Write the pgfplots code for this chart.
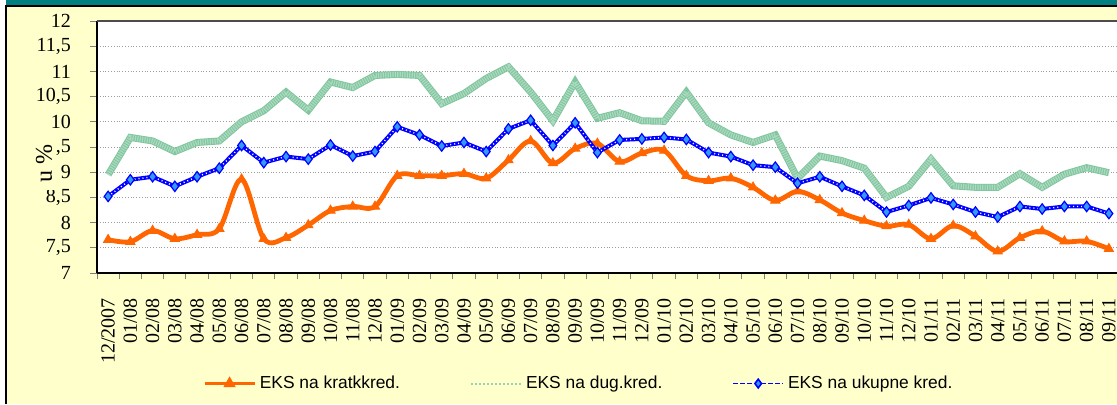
\documentclass[border=0pt]{standalone}
\usepackage{fontspec}
\setmainfont{Liberation Serif}
\setsansfont{Liberation Sans}
\usepackage{pgfplots}
\usepackage{pgfplotstable}
\pgfplotsset{compat=1.18}

\definecolor{cream}{RGB}{255,255,204}
\definecolor{headteal}{RGB}{0,128,128}
\definecolor{eksorange}{RGB}{255,102,0}
\definecolor{eksgreen}{RGB}{128,198,158}
\definecolor{eksblue}{RGB}{0,0,255}
\definecolor{eksdiamond}{RGB}{51,153,255}

\pgfplotsset{
  marklegend/.style={legend image code/.code={%
    \draw[mark repeat=2,mark phase=2,##1] plot coordinates {(0pt,0pt) (12.5pt,0pt) (25pt,0pt)};}},
  linelegend/.style={legend image code/.code={%
    \draw[##1] (0pt,0pt) -- (25pt,0pt);}},
}

% one image pixel = 0.5pt
\begin{document}
\begin{tikzpicture}
\begin{scope}[x=0.5pt,y=-0.5pt,yshift=202pt]
  \fill[white] (0,0) rectangle (1117,404);
  \fill[cream] (6,6) rectangle (1117,404);
  \fill[headteal] (6,0) rectangle (1117,5.5);
  \draw[black,line width=0.8pt] (6,404) -- (6,6) -- (1117,6);
\end{scope}

\pgfplotstableread{
x y
0 8.52
1 8.85
2 8.91
3 8.72
4 8.91
5 9.08
6 9.53
7 9.19
8 9.31
9 9.26
10 9.54
11 9.32
12 9.41
13 9.90
14 9.74
15 9.52
16 9.59
17 9.41
18 9.86
19 10.03
20 9.53
21 9.98
22 9.39
23 9.64
24 9.66
25 9.69
26 9.65
27 9.39
28 9.31
29 9.14
30 9.10
31 8.78
32 8.91
33 8.72
34 8.54
35 8.21
36 8.34
37 8.49
38 8.36
39 8.21
40 8.11
41 8.32
42 8.27
43 8.32
44 8.32
45 8.18
}\ukupne

\begin{axis}[
  at={(48.5pt,65.5pt)}, anchor=south west,
  scale only axis, width=511.5pt, height=126pt,
  xmin=-0.5, xmax=45.5, ymin=7, ymax=12,
  axis background/.style={fill=white},
  axis x line*=bottom, axis y line*=left,
  axis line style={black, line width=1pt, -},
  clip mode=individual,
  xtick={0,...,45},
  xticklabels={12/2007,01/08,02/08,03/08,04/08,05/08,06/08,07/08,08/08,09/08,10/08,11/08,12/08,
    01/09,02/09,03/09,04/09,05/09,06/09,07/09,08/09,09/09,10/09,11/09,12/09,
    01/10,02/10,03/10,04/10,05/10,06/10,07/10,08/10,09/10,10/10,11/10,12/10,
    01/11,02/11,03/11,04/11,05/11,06/11,07/11,08/11,09/11},
  major x tick style={draw=none},
  minor xtick={-0.5,0.5,...,45.5},
  ytick={7,7.5,...,12},
  tick align=outside, major tick length=3.5pt, minor tick length=3pt,
  tick style={gray, line width=0.5pt},
  ymajorgrids, grid style={gray!75, densely dotted, line width=0.5pt},
  tick label style={font=\fontsize{10}{10}\selectfont},
  xticklabel style={rotate=90, anchor=east},
  xticklabel shift=5.5pt,
  yticklabel shift=6pt,
  yticklabel style={/pgf/number format/.cd, use comma, assume math mode=true},
  legend columns=3,
  legend style={at={(0.1036,-0.4386)}, anchor=west, draw=none, fill=none,
    inner sep=0pt, font=\sffamily\fontsize{8.7}{10}\selectfont,
    /tikz/every even column/.append style={column sep=33pt}},
  legend cell align=left,
]
\draw[gray!60!black, line width=0.8pt] (rel axis cs:0,1) -- (rel axis cs:1,1);

% EKS na dug.kred.
\addplot[eksgreen, line width=3.5pt, forget plot] coordinates {
(0,8.95) (1,9.69) (2,9.62) (3,9.41) (4,9.59) (5,9.62) (6,10.0) (7,10.22) (8,10.59) (9,10.23)
(10,10.79) (11,10.68) (12,10.92) (13,10.94) (14,10.92) (15,10.36) (16,10.56) (17,10.86) (18,11.09) (19,10.59)
(20,10.02) (21,10.79) (22,10.07) (23,10.18) (24,10.02) (25,10.01) (26,10.59) (27,9.98) (28,9.74) (29,9.59)
(30,9.74) (31,8.88) (32,9.32) (33,9.23) (34,9.08) (35,8.5) (36,8.72) (37,9.26) (38,8.73) (39,8.70)
(40,8.70) (41,8.97) (42,8.70) (43,8.96) (44,9.09) (45,8.99)};
\addplot[white, opacity=0.35, line width=2.6pt, dash pattern=on 0.6pt off 0.6pt, forget plot] coordinates {
(0,8.95) (1,9.69) (2,9.62) (3,9.41) (4,9.59) (5,9.62) (6,10.0) (7,10.22) (8,10.59) (9,10.23)
(10,10.79) (11,10.68) (12,10.92) (13,10.94) (14,10.92) (15,10.36) (16,10.56) (17,10.86) (18,11.09) (19,10.59)
(20,10.02) (21,10.79) (22,10.07) (23,10.18) (24,10.02) (25,10.01) (26,10.59) (27,9.98) (28,9.74) (29,9.59)
(30,9.74) (31,8.88) (32,9.32) (33,9.23) (34,9.08) (35,8.5) (36,8.72) (37,9.26) (38,8.73) (39,8.70)
(40,8.70) (41,8.97) (42,8.70) (43,8.96) (44,9.09) (45,8.99)};

% EKS na kratkkred.
\addplot[eksorange, line width=2.4pt, smooth, tension=0.55, mark=triangle*, mark size=2.6pt,
  mark options={solid, fill=eksorange, draw=eksorange, line width=0.5pt}, forget plot] coordinates {
(0,7.66) (1,7.62) (2,7.84) (3,7.68) (4,7.76) (5,7.88) (6,8.86) (7,7.68) (8,7.70) (9,7.95)
(10,8.24) (11,8.32) (12,8.32) (13,8.93) (14,8.93) (15,8.93) (16,8.97) (17,8.88) (18,9.24) (19,9.62)
(20,9.18) (21,9.47) (22,9.57) (23,9.21) (24,9.38) (25,9.43) (26,8.93) (27,8.83) (28,8.88) (29,8.70)
(30,8.44) (31,8.62) (32,8.45) (33,8.19) (34,8.04) (35,7.93) (36,7.96) (37,7.68) (38,7.94) (39,7.73)
(40,7.43) (41,7.70) (42,7.83) (43,7.63) (44,7.63) (45,7.48)};

% EKS na ukupne kred.
\addplot[eksblue, line width=2pt, forget plot] table[x=x,y=y] {\ukupne};
\addplot[white, line width=0.7pt, dash pattern=on 0.5pt off 1.5pt, forget plot] table[x=x,y=y] {\ukupne};
\addplot[only marks, mark=diamond*, mark size=2.6pt,
  mark options={fill=eksdiamond, draw=eksblue, line width=0.6pt}, forget plot] table[x=x,y=y] {\ukupne};

\addlegendimage{eksorange, line width=1.2pt, mark=triangle*, mark size=2.4pt,
  mark options={solid, fill=eksorange}, marklegend}
\addlegendimage{eksgreen!80, line width=1pt, densely dotted, linelegend}
\addlegendimage{eksblue, line width=0.8pt, dash pattern=on 2.5pt off 1pt, mark=diamond*, mark size=2.2pt,
  mark options={solid, fill=eksdiamond, draw=eksblue}, marklegend}
\legend{EKS na kratkkred., EKS na dug.kred., EKS na ukupne kred.}
\end{axis}

\begin{scope}[x=0.5pt,y=-0.5pt,yshift=202pt]
  \node[rotate=90, fill=cream, inner sep=1.2pt, minimum width=27pt,
    font=\fontsize{12}{14}\selectfont] at (44,163) {u \%};
\end{scope}

\pgfresetboundingbox
\path[use as bounding box] (0,0) rectangle (558.5pt,202pt);
\end{tikzpicture}
\end{document}
